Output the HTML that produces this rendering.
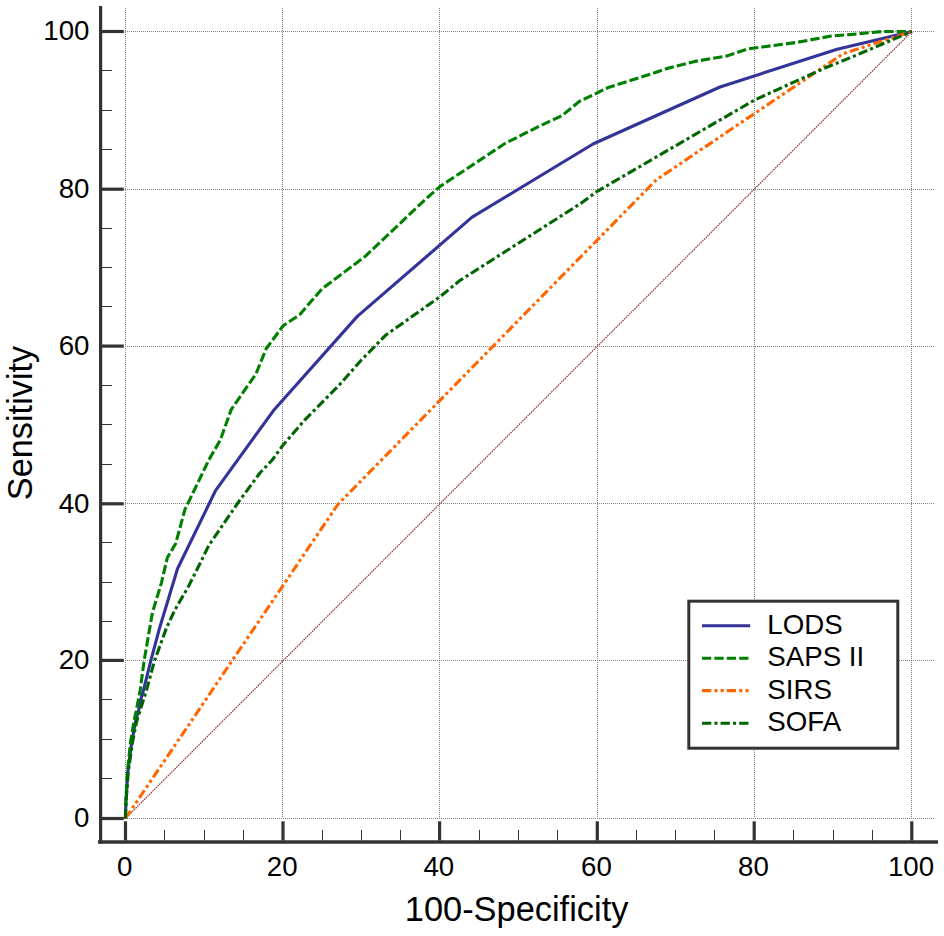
<!DOCTYPE html>
<html lang="en"><head><meta charset="utf-8"><title>ROC curves</title>
<style>html,body{margin:0;padding:0;background:#fff}body{width:944px;height:936px;overflow:hidden}svg{display:block}text{font-family:"Liberation Sans",Arial,sans-serif;fill:#000}</style></head><body>
<svg width="944" height="936" viewBox="0 0 944 936">
<rect width="944" height="936" fill="#fff"/>
<g stroke="#828282" stroke-width="1" stroke-dasharray="1 1" fill="none" shape-rendering="auto">
<line x1="125.5" y1="8" x2="125.5" y2="818"/>
<line x1="125" y1="818.5" x2="935" y2="818.5"/>
<line x1="282.5" y1="8" x2="282.5" y2="818"/>
<line x1="125" y1="660.5" x2="935" y2="660.5"/>
<line x1="439.5" y1="8" x2="439.5" y2="818"/>
<line x1="125" y1="503.5" x2="935" y2="503.5"/>
<line x1="597.5" y1="8" x2="597.5" y2="818"/>
<line x1="125" y1="346.5" x2="935" y2="346.5"/>
<line x1="754.5" y1="8" x2="754.5" y2="818"/>
<line x1="125" y1="189.5" x2="935" y2="189.5"/>
<line x1="911.5" y1="8" x2="911.5" y2="818"/>
<line x1="125" y1="31.5" x2="935" y2="31.5"/>
</g>
<line x1="125.4" y1="818.5" x2="911.9" y2="31.5" stroke="#8f3030" stroke-width="1.15" stroke-dasharray="1.6 0.8"/>
<g fill="none" stroke-width="3.1" stroke-linejoin="round">
<polyline points="125.4,818.5 125.9,802.8 127.8,772.1 131.7,742.2 135.5,721.7 138.7,709.9 140.6,700.0 143.5,690.0 150.9,660.3 159.2,629.3 167.4,602.3 177.5,568.7 215.7,490.3 273.3,410.8 357.3,316.4 472.1,217.2 593.0,144.0 720.0,87.0 837.2,49.2 911.9,31.5" stroke="#333399"/>
<polyline points="125.4,818.5 125.7,802.8 127.4,772.1 130.5,742.2 133.9,721.7 136.4,709.9 140.2,690.0 144.2,660.3 152.4,612.8 161.4,582.9 167.4,557.5 175.6,543.8 184.9,509.6 208.8,460.0 220.2,440.2 231.3,409.4 256.0,373.8 266.2,348.7 283.1,325.8 299.6,314.8 322.0,288.8 365.0,256.6 424.8,199.9 440.0,186.5 505.3,143.3 539.9,125.9 561.9,115.7 579.2,101.5 597.3,92.9 608.3,87.4 646.1,75.6 669.7,67.7 694.8,61.4 727.1,55.9 748.3,48.8 796.3,42.5 830.1,36.2 849.8,34.6 882.0,31.5 911.9,31.5" stroke="#008000" stroke-dasharray="9.3 3.1"/>
<polyline points="125.4,818.5 337.8,504.5 656.3,179.8 843.5,53.5 911.9,31.5" stroke="#ff6600" stroke-dasharray="9.3 3.1 3.1 3.1 3.1 3.1"/>
<polyline points="125.4,818.5 126.0,802.8 128.2,772.1 132.5,742.2 136.6,721.7 140.3,709.9 146.5,690.0 154.7,660.3 166.3,628.4 174.9,609.9 188.1,587.1 200.0,563.5 208.8,545.4 237.9,502.9 259.9,473.0 272.2,460.0 282.7,445.5 304.4,420.3 340.1,384.1 361.4,360.0 385.5,335.3 440.0,296.7 459.7,280.6 580.0,203.9 597.3,191.3 694.8,134.6 754.6,100.0 823.8,68.5 849.8,57.9 911.9,31.5" stroke="#006400" stroke-dasharray="9.3 3.1 3.1 3.1"/>
</g>
<g stroke="#333333" fill="none">
<line x1="100.6" y1="6" x2="100.6" y2="843.5" stroke-width="3.2"/>
<line x1="98" y1="842" x2="938" y2="842" stroke-width="3.4"/>
<line x1="102" y1="818.5" x2="123.8" y2="818.5" stroke-width="3.2"/>
<line x1="125.5" y1="821.3" x2="125.5" y2="840.5" stroke-width="3.2"/>
<line x1="102" y1="778.5" x2="112" y2="778.5" stroke-width="1"/>
<line x1="164.5" y1="830" x2="164.5" y2="840.5" stroke-width="1"/>
<line x1="102" y1="739.5" x2="112" y2="739.5" stroke-width="1"/>
<line x1="204.5" y1="830" x2="204.5" y2="840.5" stroke-width="1"/>
<line x1="102" y1="699.5" x2="112" y2="699.5" stroke-width="1"/>
<line x1="243.5" y1="830" x2="243.5" y2="840.5" stroke-width="1"/>
<line x1="102" y1="660.4" x2="123.8" y2="660.4" stroke-width="3.2"/>
<line x1="283.0" y1="821.3" x2="283.0" y2="840.5" stroke-width="3.2"/>
<line x1="102" y1="621.5" x2="112" y2="621.5" stroke-width="1"/>
<line x1="322.5" y1="830" x2="322.5" y2="840.5" stroke-width="1"/>
<line x1="102" y1="582.5" x2="112" y2="582.5" stroke-width="1"/>
<line x1="361.5" y1="830" x2="361.5" y2="840.5" stroke-width="1"/>
<line x1="102" y1="542.5" x2="112" y2="542.5" stroke-width="1"/>
<line x1="400.5" y1="830" x2="400.5" y2="840.5" stroke-width="1"/>
<line x1="102" y1="503.8" x2="123.8" y2="503.8" stroke-width="3.2"/>
<line x1="439.6" y1="821.3" x2="439.6" y2="840.5" stroke-width="3.2"/>
<line x1="102" y1="464.5" x2="112" y2="464.5" stroke-width="1"/>
<line x1="479.5" y1="830" x2="479.5" y2="840.5" stroke-width="1"/>
<line x1="102" y1="424.5" x2="112" y2="424.5" stroke-width="1"/>
<line x1="518.5" y1="830" x2="518.5" y2="840.5" stroke-width="1"/>
<line x1="102" y1="385.5" x2="112" y2="385.5" stroke-width="1"/>
<line x1="557.5" y1="830" x2="557.5" y2="840.5" stroke-width="1"/>
<line x1="102" y1="346.1" x2="123.8" y2="346.1" stroke-width="3.2"/>
<line x1="597.3" y1="821.3" x2="597.3" y2="840.5" stroke-width="3.2"/>
<line x1="102" y1="306.5" x2="112" y2="306.5" stroke-width="1"/>
<line x1="636.5" y1="830" x2="636.5" y2="840.5" stroke-width="1"/>
<line x1="102" y1="267.5" x2="112" y2="267.5" stroke-width="1"/>
<line x1="675.5" y1="830" x2="675.5" y2="840.5" stroke-width="1"/>
<line x1="102" y1="228.5" x2="112" y2="228.5" stroke-width="1"/>
<line x1="714.5" y1="830" x2="714.5" y2="840.5" stroke-width="1"/>
<line x1="102" y1="189.2" x2="123.8" y2="189.2" stroke-width="3.2"/>
<line x1="754.2" y1="821.3" x2="754.2" y2="840.5" stroke-width="3.2"/>
<line x1="102" y1="149.5" x2="112" y2="149.5" stroke-width="1"/>
<line x1="793.5" y1="830" x2="793.5" y2="840.5" stroke-width="1"/>
<line x1="102" y1="110.5" x2="112" y2="110.5" stroke-width="1"/>
<line x1="833.5" y1="830" x2="833.5" y2="840.5" stroke-width="1"/>
<line x1="102" y1="70.5" x2="112" y2="70.5" stroke-width="1"/>
<line x1="872.5" y1="830" x2="872.5" y2="840.5" stroke-width="1"/>
<line x1="102" y1="31.5" x2="123.8" y2="31.5" stroke-width="3.2"/>
<line x1="911.8" y1="821.3" x2="911.8" y2="840.5" stroke-width="3.2"/>
</g>
<g font-size="27.7px">
<text x="89.5" y="827.2" text-anchor="end">0</text>
<text x="124.7" y="876" text-anchor="middle">0</text>
<text x="89.5" y="669.1" text-anchor="end">20</text>
<text x="282.2" y="876" text-anchor="middle">20</text>
<text x="89.5" y="512.5" text-anchor="end">40</text>
<text x="438.8" y="876" text-anchor="middle">40</text>
<text x="89.5" y="354.8" text-anchor="end">60</text>
<text x="596.5" y="876" text-anchor="middle">60</text>
<text x="89.5" y="197.9" text-anchor="end">80</text>
<text x="753.4" y="876" text-anchor="middle">80</text>
<text x="89.5" y="40.2" text-anchor="end">100</text>
<text x="911.0" y="876" text-anchor="middle">100</text>
</g>
<text x="516.6" y="921" font-size="34.4px" text-anchor="middle">100-Specificity</text>
<text transform="translate(32.3 423) rotate(-90)" font-size="34.3px" text-anchor="middle">Sensitivity</text>
<rect x="688.8" y="601.2" width="209" height="147" fill="#fff" stroke="#333333" stroke-width="3"/>
<g fill="none" stroke-width="3.1">
<line x1="702" y1="625.8" x2="750.2" y2="625.8" stroke="#333399"/>
<line x1="702" y1="658.2" x2="750.2" y2="658.2" stroke="#008000" stroke-dasharray="9.3 3.1"/>
<line x1="702" y1="690.6" x2="750.2" y2="690.6" stroke="#ff6600" stroke-dasharray="9.3 3.1 3.1 3.1 3.1 3.1"/>
<line x1="702" y1="723.2" x2="750.2" y2="723.2" stroke="#006400" stroke-dasharray="9.3 3.1 3.1 3.1"/>
</g>
<g font-size="27.7px">
<text x="767.3" y="634.0">LODS</text>
<text x="767.3" y="666.3">SAPS II</text>
<text x="767.3" y="698.6">SIRS</text>
<text x="767.3" y="730.9">SOFA</text>
</g>
</svg></body></html>
